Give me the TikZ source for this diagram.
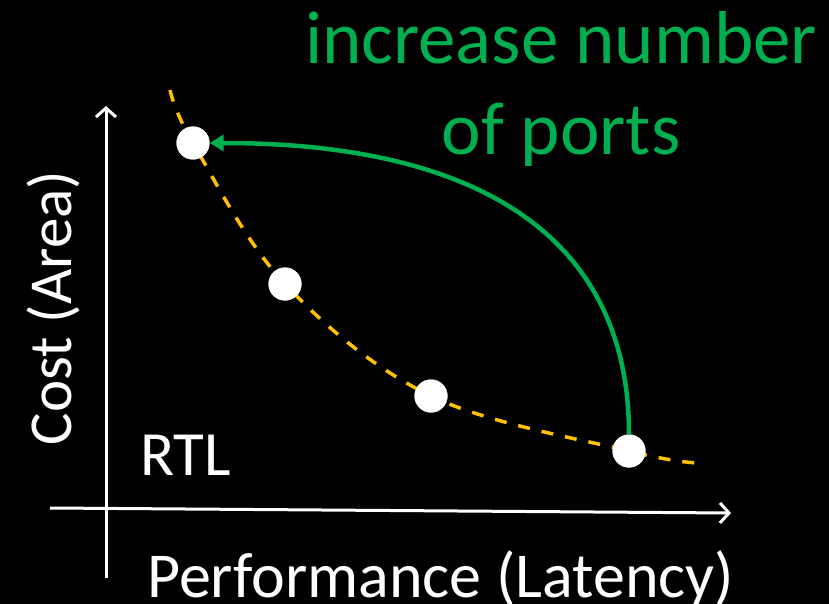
\documentclass[tikz,border=0pt]{standalone}
\usepackage{fontspec}
\setmainfont{Carlito}
\usetikzlibrary{arrows.meta}
\definecolor{curvegold}{HTML}{FFC000}
\definecolor{portgreen}{HTML}{00B050}
\tikzset{
  axis/.style={draw=white, line width=3pt, -{Straight Barb[length=9pt,width=20pt,line width=3pt]}},
  dot/.style={circle, fill=white, minimum size=33pt, inner sep=0pt},
  label/.style={text=white, font=\fontsize{63}{70}\selectfont, inner sep=0pt},
  greenlabel/.style={text=portgreen, font=\fontsize{75}{84}\selectfont, inner sep=0pt, align=center},
}
\begin{document}
\begin{tikzpicture}[x=1pt,y=-1pt]
  \fill[black] (0,0) rectangle (829,604);
  \useasboundingbox (0,0) rectangle (829,604);

  % axes
  \coordinate (ybot) at (106,578);
  \coordinate (ytop) at (106,106);
  \coordinate (xleft) at (50,508);
  \coordinate (xright) at (731,513);
  \draw[axis] (ybot) -- (ytop);
  \draw[axis] (xleft) -- (xright);

  % design points
  \node[dot] (p1) at (193,143) {};
  \node[dot] (p2) at (285,284) {};
  \node[dot] (p3) at (431,396) {};
  \node[dot] (p4) at (629,451) {};
  \coordinate (cstart) at (170,90);
  \coordinate (cend) at (697,463);

  % trade-off curve through the design points
  \draw[curvegold, line width=3.5pt, dash pattern=on 12pt off 12pt]
    plot[smooth, tension=0.6] coordinates {(cstart) (p1.center) (p2.center) (p3.center) (p4.center) (cend)};
  \node[dot] at (p1) {};
  \node[dot] at (p2) {};
  \node[dot] at (p3) {};
  \node[dot] at (p4) {};

  % green arrow
  \draw[portgreen, line width=4.5pt, -{Triangle[length=14pt,width=16pt]}]
    (p4.north) .. controls (629,245) and (490,143) .. (p1.east);

  % labels
  \node[greenlabel, anchor=base] (t1) at (561,64) {increase number};
  \node[greenlabel, anchor=base] (t2) at (561,155) {of ports};
  \node[label, font=\fontsize{61}{68}\selectfont, rotate=90, anchor=base] (ylab) at (71,308) {Cost (Area)};
  \node[label, anchor=base west] (rtl) at (140,475) {RTL};
  \node[label, font=\fontsize{64}{71}\selectfont, anchor=base west] (xlab) at (147,597) {Performance (Latency)};
\end{tikzpicture}
\end{document}
